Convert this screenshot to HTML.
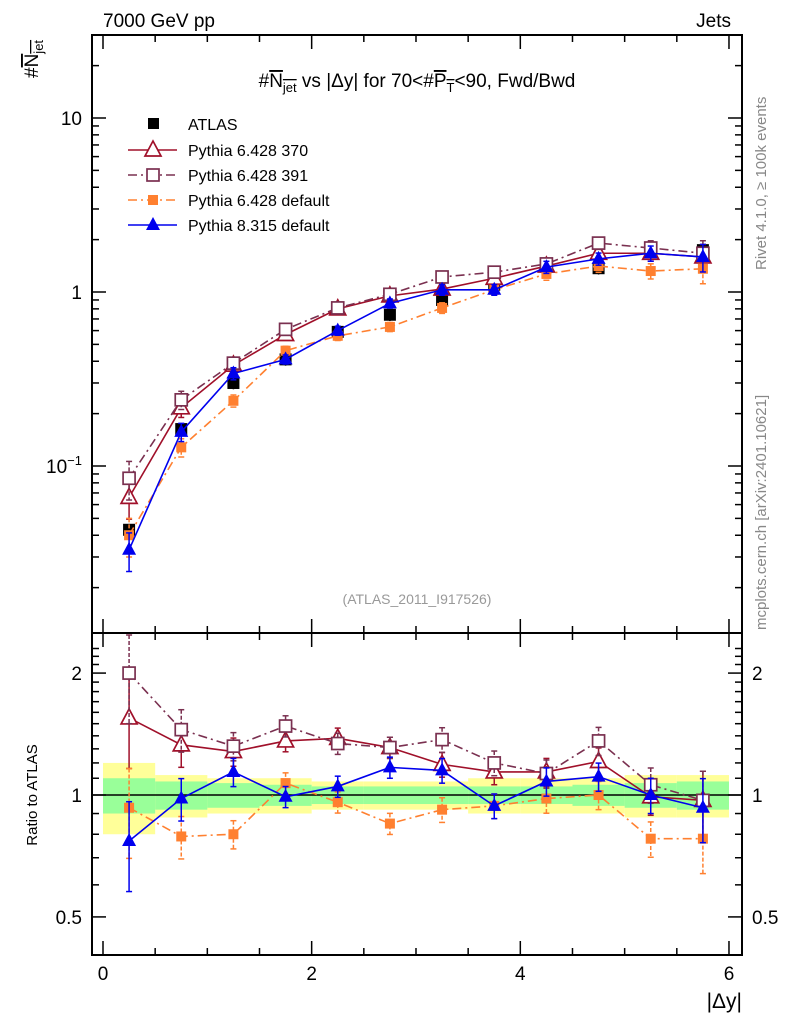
<!DOCTYPE html>
<html><head><meta charset="utf-8"><style>
body{margin:0;background:#fff;}
svg{font-family:"Liberation Sans",sans-serif;}
</style></head><body>
<svg id="c" width="786" height="1024"></svg>
<script>
const xCenters=[0.25,0.75,1.25,1.75,2.25,2.75,3.25,3.75,4.25,4.75,5.25,5.75];
const atlas=[0.043,0.163,0.30,0.41,0.59,0.74,0.90,1.10,1.43,1.37,1.67,1.74];
const p370=[0.066,0.216,0.38,0.57,0.80,0.95,1.04,1.20,1.41,1.67,1.67,1.59];
const p391=[0.085,0.24,0.39,0.61,0.81,0.97,1.22,1.30,1.45,1.91,1.79,1.67];
const p6def=[0.040,0.128,0.237,0.46,0.56,0.63,0.81,1.03,1.27,1.41,1.32,1.36];
const p8def=[0.033,0.157,0.34,0.41,0.60,0.86,1.03,1.03,1.39,1.55,1.67,1.59];
const r370=[1.55,1.33,1.28,1.36,1.38,1.31,1.19,1.14,1.14,1.21,0.99,0.97];
const r391=[2.0,1.45,1.32,1.48,1.34,1.31,1.37,1.2,1.13,1.36,1.06,0.97];
const r6def=[0.93,0.79,0.80,1.07,0.96,0.85,0.92,0.94,0.98,1.0,0.78,0.78];
const r8def=[0.77,0.98,1.14,0.99,1.05,1.17,1.15,0.94,1.08,1.11,1.0,0.93];
const totErr=[0.2,0.12,0.1,0.1,0.08,0.08,0.08,0.1,0.1,0.1,0.12,0.12];
const statErr=[0.1,0.08,0.07,0.06,0.05,0.05,0.05,0.05,0.05,0.06,0.07,0.08];
const mcErr=[0.25,0.12,0.08,0.06,0.06,0.06,0.07,0.07,0.08,0.08,0.1,0.18];
const xTicks=[0,2,4,6];

const svg=document.getElementById('c');const NS='http://www.w3.org/2000/svg';
function el(t,a,p){const e=document.createElementNS(NS,t);for(const k in a)e.setAttribute(k,a[k]);(p||svg).appendChild(e);return e;}
const X0=92,X1=742,MT=35,MB=633,RT=633,RB=955;
const sx=v=>103+v*104.33;
const sy=v=>292-Math.log10(v)*174;
const sr=v=>795-Math.log10(v)*405;
// frames
let f=el('rect',{x:X0,y:MT,width:X1-X0,height:MB-MT,fill:'none',stroke:'#000','stroke-width':2});

// bands
const bands=el('g',{});
xCenters.forEach((x,i)=>{
 el('rect',{x:sx(x-0.25),y:sr(1+totErr[i]),width:104.33/2,height:sr(1-totErr[i])-sr(1+totErr[i]),fill:'#ffff99'},bands);
});
xCenters.forEach((x,i)=>{
 el('rect',{x:sx(x-0.25),y:sr(1+statErr[i]),width:104.33/2,height:sr(1-statErr[i])-sr(1+statErr[i]),fill:'#99ff99'},bands);
});
el('line',{x1:X0,x2:X1,y1:sr(1),y2:sr(1),stroke:'#000','stroke-width':1.5});
f=el('rect',{x:X0,y:RT,width:X1-X0,height:RB-RT,fill:'none',stroke:'#000','stroke-width':2});

// x ticks
const ax=el('g',{});
for(let v=0;v<=6.001;v+=0.5){const major=Math.abs(v-Math.round(v/2)*2)<1e-6;const L=major?14:7;
 for(const [t,b] of [[MT,MB],[RT,RB]]){el('line',{x1:sx(v),x2:sx(v),y1:b,y2:b-L,stroke:'#000','stroke-width':1.5},ax);el('line',{x1:sx(v),x2:sx(v),y1:t,y2:t+L,stroke:'#000','stroke-width':1.5},ax);}}
xTicks.forEach(v=>{const t=el('text',{x:sx(v),y:980,'font-size':19,'text-anchor':'middle'},ax);t.textContent=v;});
let t=el('text',{x:742,y:1008,'font-size':21,'text-anchor':'end'});t.textContent='|Δy|';
// y ticks main log
const ay=el('g',{});
for(let d=-2;d<=1;d++)for(let m=1;m<=9;m++){const v=m*Math.pow(10,d);const y=sy(v);if(y<MT||y>MB)continue;const L=m==1?14:7;
 el('line',{x1:X0,x2:X0+L,y1:y,y2:y,stroke:'#000','stroke-width':1.5},ay);el('line',{x1:X1,x2:X1-L,y1:y,y2:y,stroke:'#000','stroke-width':1.5},ay);}
[[10,'10'],[1,'1']].forEach(([v,s])=>{const t=el('text',{x:82,y:sy(v)+7,'font-size':19,'text-anchor':'end'},ay);t.textContent=s;});
t=el('text',{x:82,y:sy(0.1)+7,'font-size':19,'text-anchor':'end'},ay);t.innerHTML='10<tspan dy="-8" font-size="13">−1</tspan>';
// ratio ticks
const ar=el('g',{});
for(let v=0.5;v<=2.31;v+=0.1){const y=sr(v);const maj=[0.5,1,2].some(q=>Math.abs(q-v)<1e-6);const L=maj?14:7;
 el('line',{x1:X0,x2:X0+L,y1:y,y2:y,stroke:'#000','stroke-width':1.5},ar);el('line',{x1:X1,x2:X1-L,y1:y,y2:y,stroke:'#000','stroke-width':1.5},ar);}
[[2,'2'],[1,'1'],[0.5,'0.5']].forEach(([v,s])=>{let t=el('text',{x:82,y:sr(v)+7,'font-size':19,'text-anchor':'end'},ar);t.textContent=s;t=el('text',{x:752,y:sr(v)+7,'font-size':19},ar);t.textContent=s;});
t=el('text',{x:0,y:0,'font-size':15,'text-anchor':'middle',transform:'translate(37,795) rotate(-90)'});t.textContent='Ratio to ATLAS';
// series
const series=[
 {name:'pythia-6-428-370',v:p370,r:r370,c:'#a0102a',dash:'',m:'otri'},
 {name:'pythia-6-428-391',v:p391,r:r391,c:'#7a3050',dash:'9,4,2,4',m:'osq'},
 {name:'pythia-6-428-default',v:p6def,r:r6def,c:'#ff8030',dash:'9,4,2,4',m:'fsq'},
 {name:'pythia-8-315-default',v:p8def,r:r8def,c:'#0000ee',dash:'',m:'ftri'}];
function marker(g,m,x,y,c){
 if(m=='otri')el('polygon',{points:`${x},${y-9} ${x-8},${y+6} ${x+8},${y+6}`,fill:'#fff',stroke:c,'stroke-width':1.7},g);
 if(m=='ftri')el('polygon',{points:`${x},${y-8} ${x-7},${y+5} ${x+7},${y+5}`,fill:c},g);
 if(m=='osq')el('rect',{x:x-6,y:y-6,width:12,height:12,fill:'#fff',stroke:c,'stroke-width':1.7},g);
 if(m=='fsq')el('rect',{x:x-5,y:y-5,width:10,height:10,fill:c},g);
}
function draw(s,vals,scale,clipT,clipB){
 const g=el('g',{});
 let pts=xCenters.map((x,i)=>sx(x)+','+scale(vals[i])).join(' ');
 el('polyline',{points:pts,fill:'none',stroke:s.c,'stroke-width':1.6,'stroke-dasharray':s.dash},g);
 xCenters.forEach((x,i)=>{const e=mcErr[i];const y1=Math.max(clipT,scale(vals[i]*(1+e))),y2=Math.min(clipB,scale(vals[i]*(1-e)));
  el('line',{x1:sx(x),x2:sx(x),y1,y2,stroke:s.c,'stroke-width':1.5,'stroke-dasharray':s.dash?'4,2':''},g);
  el('line',{x1:sx(x)-3,x2:sx(x)+3,y1,y2:y1,stroke:s.c,'stroke-width':1.5},g);
  el('line',{x1:sx(x)-3,x2:sx(x)+3,y1:y2,y2,stroke:s.c,'stroke-width':1.5},g);});
 xCenters.forEach((x,i)=>marker(g,s.m,sx(x),scale(vals[i]),s.c));
}
const ga=el('g',{});
xCenters.forEach((x,i)=>{el('line',{x1:sx(x),x2:sx(x),y1:sy(atlas[i]*1.08),y2:sy(atlas[i]*0.92),stroke:'#000','stroke-width':1.5},ga);
 el('rect',{x:sx(x)-6,y:sy(atlas[i])-6,width:12,height:12,fill:'#000'},ga);});
series.forEach(s=>{draw(s,s.v,sy,MT,MB);draw(s,s.r,sr,RT+2,RB);});
// legend
const lg=el('g',{});
el('rect',{x:148,y:118,width:11,height:11,fill:'#000'},lg);
t=el('text',{x:188,y:130,'font-size':16},lg);t.textContent='ATLAS';
const ln=['Pythia 6.428 370','Pythia 6.428 391','Pythia 6.428 default','Pythia 8.315 default'];
series.forEach((s,i)=>{const y=150+i*25;const e=el('g',{},lg);
 el('line',{x1:128,x2:177,y1:y,y2:y,stroke:s.c,'stroke-width':1.6,'stroke-dasharray':s.dash},e);marker(e,s.m,153,y,s.c);
 const tt=el('text',{x:188,y:y+6,'font-size':16},e);tt.textContent=ln[i];});
// texts
t=el('text',{x:103,y:27,'font-size':19});t.textContent='7000 GeV pp';
t=el('text',{x:731,y:27,'font-size':19,'text-anchor':'end'});t.textContent='Jets';
t=el('text',{x:417,y:87,'font-size':19,'text-anchor':'middle'});t.innerHTML='#<tspan text-decoration="overline">N<tspan font-size="13" dy="5">jet</tspan></tspan><tspan dy="-5"> vs |Δy| for 70&lt;#</tspan><tspan text-decoration="overline">P<tspan font-size="13" dy="5">T</tspan></tspan><tspan dy="-5">&lt;90, Fwd/Bwd</tspan>';

t=el('text',{x:0,y:0,'font-size':19,transform:'translate(38,78) rotate(-90)'});t.innerHTML='#<tspan text-decoration="overline">N<tspan font-size="13" dy="5">jet</tspan></tspan>';

t=el('text',{x:417,y:604,'font-size':14,fill:'#999','text-anchor':'middle'});t.textContent='(ATLAS_2011_I917526)';
t=el('text',{x:0,y:0,'font-size':15,fill:'#888',transform:'translate(766,270) rotate(-90)'});t.textContent='Rivet 4.1.0, ≥ 100k events';
t=el('text',{x:0,y:0,'font-size':15,fill:'#888',transform:'translate(766,630) rotate(-90)'});t.textContent='mcplots.cern.ch [arXiv:2401.10621]';
</script></body></html>
